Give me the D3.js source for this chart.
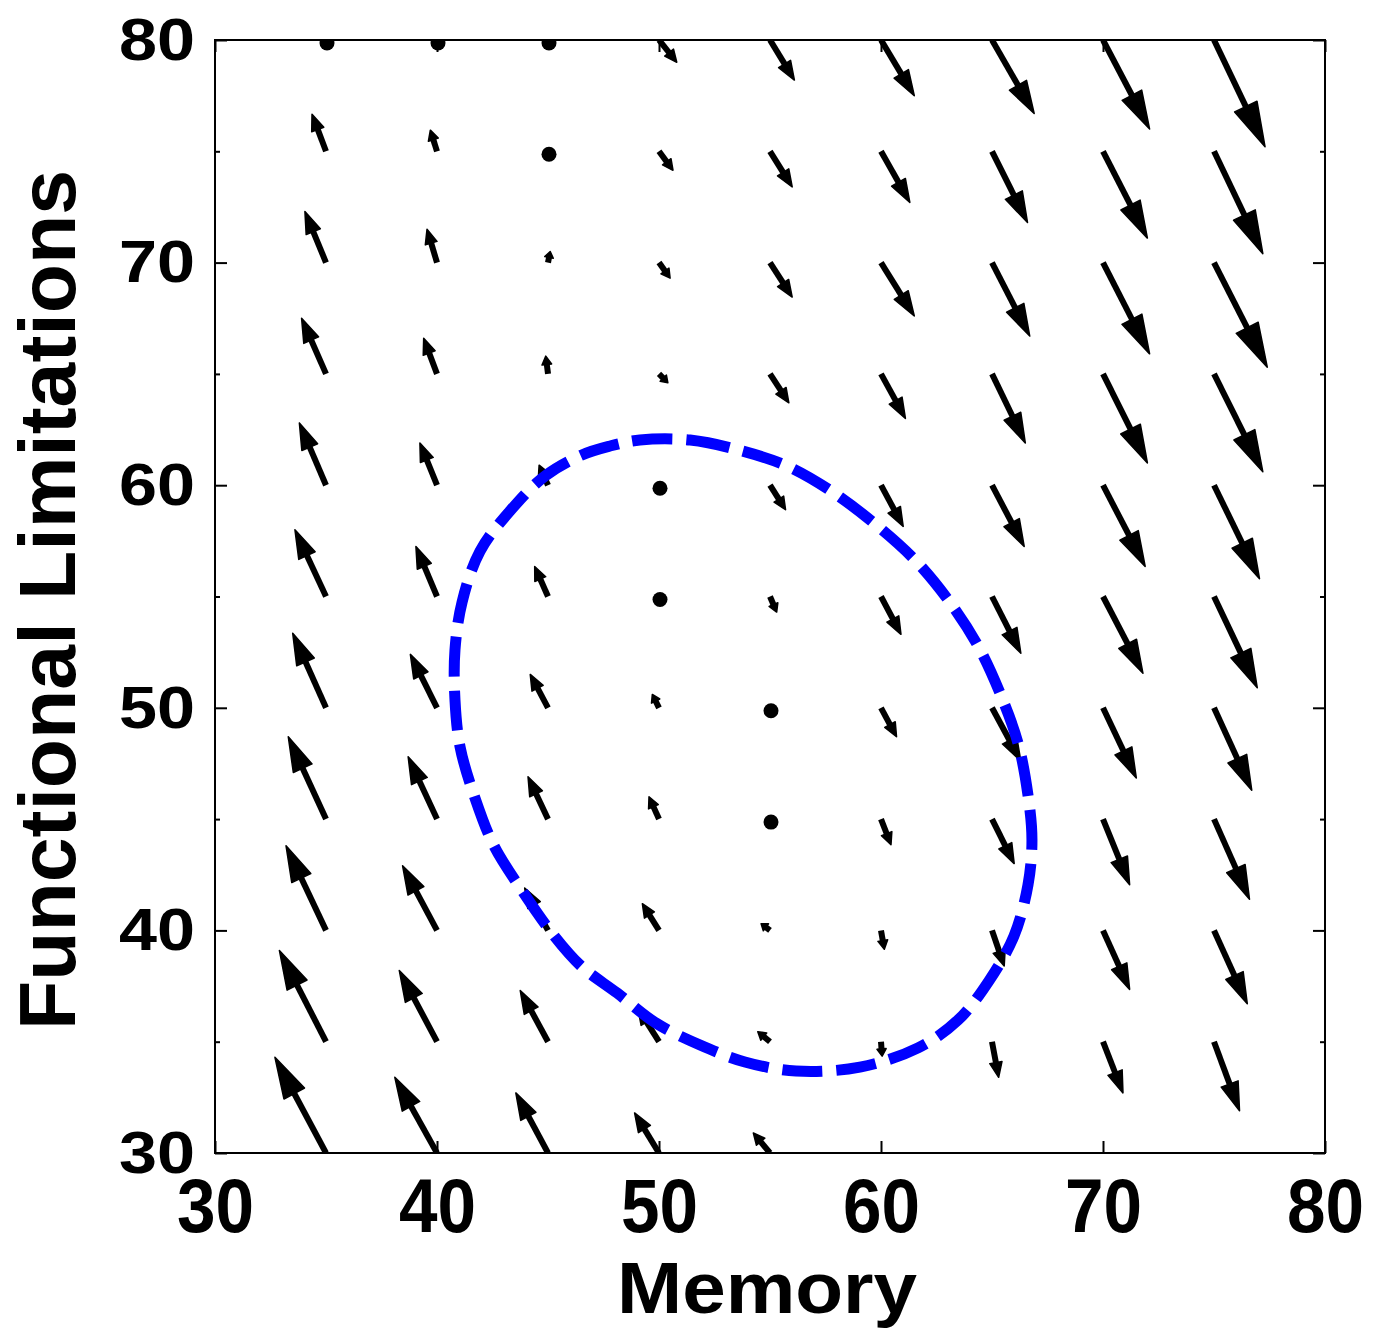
<!DOCTYPE html>
<html>
<head>
<meta charset="utf-8">
<script src="https://cdn.jsdelivr.net/npm/d3@7"></script>
<style>
  body { margin: 0; background: #fff; }
  svg { display: block; }
  text { font-family: "Liberation Sans", Arial, Helvetica, sans-serif; font-weight: bold; fill: #000; }
</style>
</head>
<body>
<svg id="chart" width="1376" height="1330"></svg>
<script>
// grid of the vector field (Memory on x, Functional Limitations on y)
const xGrid = [35, 40, 45, 50, 55, 60, 65, 70, 75];
const yGrid = [80, 75, 70, 65, 60, 55, 50, 45, 40, 35, 30];

// arrow components per row (same order as yGrid), in data units
const uRows = [
  [0, 0, 0.1, 0.8, 1.1, 1.5, 1.9, 2.1, 2.3],
  [-0.63, -0.3, 0.1, 0.63, 1.0, 1.3, 1.6, 2.0, 2.2],
  [-0.95, -0.45, 0.1, 0.5, 1.0, 1.5, 1.7, 2.1, 2.4],
  [-1.1, -0.6, -0.1, 0.4, 0.85, 1.1, 1.5, 2.0, 2.2],
  [-1.2, -0.77, -0.4, 0, 0.7, 1.0, 1.45, 1.9, 2.05],
  [-1.4, -0.95, -0.6, 0, 0.3, 0.9, 1.3, 1.8, 1.95],
  [-1.5, -1.2, -0.8, -0.3, 0, 0.7, 1.3, 1.5, 1.7],
  [-1.7, -1.3, -0.9, -0.45, 0, 0.45, 1.0, 1.2, 1.6],
  [-1.8, -1.55, -1.05, -0.75, -0.4, 0.15, 0.55, 1.2, 1.5],
  [-2.1, -1.7, -1.25, -0.95, -0.55, 0.05, 0.3, 0.9, 1.15],
  [-2.3, -1.9, -1.45, -1.1, -0.75, 0, 0.2, 0.7, 1.0]
];
const vRows = [
  [0, -0.2, -0.1, -1.0, -1.8, -2.5, -3.3, -4.0, -4.8],
  [1.66, 0.95, 0.0, -0.85, -1.6, -2.3, -3.2, -3.9, -4.6],
  [2.3, 1.5, 0.5, -0.7, -1.55, -2.4, -3.3, -4.1, -4.7],
  [2.5, 1.6, 0.8, -0.4, -1.3, -2.0, -3.1, -4.0, -4.4],
  [2.8, 1.9, 0.9, 0, -1.1, -1.85, -2.75, -3.65, -4.2],
  [3.0, 2.25, 1.35, 0, -0.7, -1.7, -2.55, -3.45, -4.1],
  [3.35, 2.4, 1.5, 0.6, 0, -1.3, -2.4, -3.15, -3.7],
  [3.7, 2.8, 1.9, 1.0, 0, -1.15, -2.0, -2.95, -3.6],
  [3.8, 2.9, 1.9, 1.2, 0.3, -0.85, -1.6, -2.65, -3.3],
  [4.1, 3.2, 2.3, 1.5, 0.45, -0.65, -1.6, -2.3, -3.1],
  [4.3, 3.4, 2.7, 1.8, 0.9, -0.3, -1.2, -2.0, -2.7]
];

// closed dashed curve (Memory, Functional Limitations)
const cycleX = [49.14, 51.40, 53.74, 55.77, 57.75, 59.68, 61.53, 63.06, 64.37, 65.36, 66.17, 66.62, 66.80, 66.62, 65.99, 64.86, 63.47, 61.67, 59.05, 56.17, 53.87, 51.85, 49.86, 48.11, 46.49, 45.18, 43.87, 42.57, 41.71, 41.04, 40.81, 40.81, 41.13, 41.94, 43.33, 44.86, 46.53, 47.79];
const cycleY = [62.03, 62.03, 61.54, 60.86, 59.74, 58.30, 56.64, 54.80, 52.78, 50.66, 48.42, 46.08, 44.06, 42.04, 39.75, 37.73, 35.97, 34.72, 33.86, 33.68, 34.09, 34.85, 35.84, 37.19, 38.40, 39.88, 41.73, 43.79, 45.95, 48.24, 50.35, 52.60, 54.75, 57.04, 58.89, 60.41, 61.36, 61.76];

const xTicks = [30, 40, 50, 60, 70, 80];
const yTicks = [30, 40, 50, 60, 70, 80];
const yMinorTicks = [35, 45, 55, 65, 75];

const plotLeft = 215, plotRight = 1325, plotTop = 40, plotBottom = 1153;

const svg = d3.select("#chart");
const x = d3.scaleLinear().domain([30, 80]).range([plotLeft, plotRight]);
const y = d3.scaleLinear().domain([30, 80]).range([plotBottom, plotTop]);

svg.append("clipPath").attr("id", "plotClip")
  .append("rect")
  .attr("x", plotLeft).attr("y", plotTop)
  .attr("width", plotRight - plotLeft).attr("height", plotBottom - plotTop);

// arrows
const arrows = [];
yGrid.forEach((yv, i) => {
  xGrid.forEach((xv, j) => {
    arrows.push({ x: xv, y: yv, u: uRows[i][j], v: vRows[i][j] });
  });
});

const field = svg.append("g").attr("clip-path", "url(#plotClip)");

arrows.forEach(d => {
  const x0 = x(d.x), y0 = y(d.y);
  const mag = Math.hypot(d.u, d.v);
  if (mag < 0.25) {
    // near-zero vectors show up as dots
    field.append("circle").attr("cx", x0 + 1).attr("cy", y0 + 3).attr("r", 7.5).attr("fill", "#000");
    return;
  }
  const x1 = x(d.x + d.u), y1 = y(d.y + d.v);
  const L = Math.hypot(x1 - x0, y1 - y0);
  const ux = (x1 - x0) / L, uy = (y1 - y0) / L;
  const px = -uy, py = ux;
  const hl = 0.36 * L + 2;
  const hw = 0.075 * L + 3.5;
  const bx = x1 - ux * hl, by = y1 - uy * hl;
  field.append("line")
    .attr("x1", x0).attr("y1", y0)
    .attr("x2", bx + ux * 2).attr("y2", by + uy * 2)
    .attr("stroke", "#000").attr("stroke-width", 6);
  field.append("path")
    .attr("d", `M${x1},${y1}L${bx + px * hw},${by + py * hw}L${bx - px * hw},${by - py * hw}Z`)
    .attr("fill", "#000").attr("stroke", "#000").attr("stroke-width", 1.5)
    .attr("stroke-linejoin", "round");
});

// dashed closed curve
const cyclePts = cycleX.map((cx, i) => [cx, cycleY[i]]);
svg.append("path")
  .datum(cyclePts)
  .attr("d", d3.line().x(d => x(d[0])).y(d => y(d[1])).curve(d3.curveCatmullRomClosed))
  .attr("fill", "none")
  .attr("stroke", "#0000ff")
  .attr("stroke-width", 11)
  .attr("stroke-dasharray", "40,14");

// axes
const xAxis = svg.append("g").attr("transform", `translate(0,${plotBottom})`)
  .call(d3.axisBottom(x).tickValues(xTicks).tickSizeInner(-12).tickSizeOuter(0).tickPadding(25).tickFormat(d3.format("d")));
xAxis.selectAll("text")
  .attr("font-size", 76)
  .attr("textLength", 77).attr("lengthAdjust", "spacingAndGlyphs");

const yAxis = svg.append("g").attr("transform", `translate(${plotLeft},0)`)
  .call(d3.axisLeft(y).tickValues(yTicks).tickSizeInner(-12).tickSizeOuter(0).tickPadding(20).tickFormat(d3.format("d")));
yAxis.selectAll("text")
  .attr("font-size", 60)
  .attr("textLength", 76).attr("lengthAdjust", "spacingAndGlyphs");

svg.append("g").attr("transform", `translate(${plotLeft},0)`)
  .call(d3.axisLeft(y).tickValues(yMinorTicks).tickSizeInner(-5).tickSizeOuter(0).tickFormat(""));
svg.append("g").attr("transform", `translate(${plotRight},0)`)
  .call(d3.axisRight(y).tickValues(yTicks).tickSizeInner(-12).tickSizeOuter(0).tickFormat(""));
svg.append("g").attr("transform", `translate(${plotRight},0)`)
  .call(d3.axisRight(y).tickValues(yMinorTicks).tickSizeInner(-5).tickSizeOuter(0).tickFormat(""));
svg.append("g").attr("transform", `translate(0,${plotTop})`)
  .call(d3.axisTop(x).tickValues(xTicks).tickSizeInner(-12).tickSizeOuter(0).tickFormat(""));

svg.selectAll(".domain").remove();
svg.selectAll(".tick line").attr("stroke", "#000").attr("stroke-width", 2);

svg.append("rect")
  .attr("x", plotLeft).attr("y", plotTop)
  .attr("width", plotRight - plotLeft).attr("height", plotBottom - plotTop)
  .attr("fill", "none").attr("stroke", "#000").attr("stroke-width", 2);

// axis titles
svg.append("text")
  .attr("x", 767).attr("y", 1313)
  .attr("text-anchor", "middle")
  .attr("font-size", 72)
  .attr("textLength", 300).attr("lengthAdjust", "spacingAndGlyphs")
  .text("Memory");

svg.append("text")
  .attr("transform", "translate(75,600) rotate(-90)")
  .attr("text-anchor", "middle")
  .attr("font-size", 80)
  .attr("textLength", 860).attr("lengthAdjust", "spacingAndGlyphs")
  .text("Functional Limitations");
</script>
</body>
</html>
